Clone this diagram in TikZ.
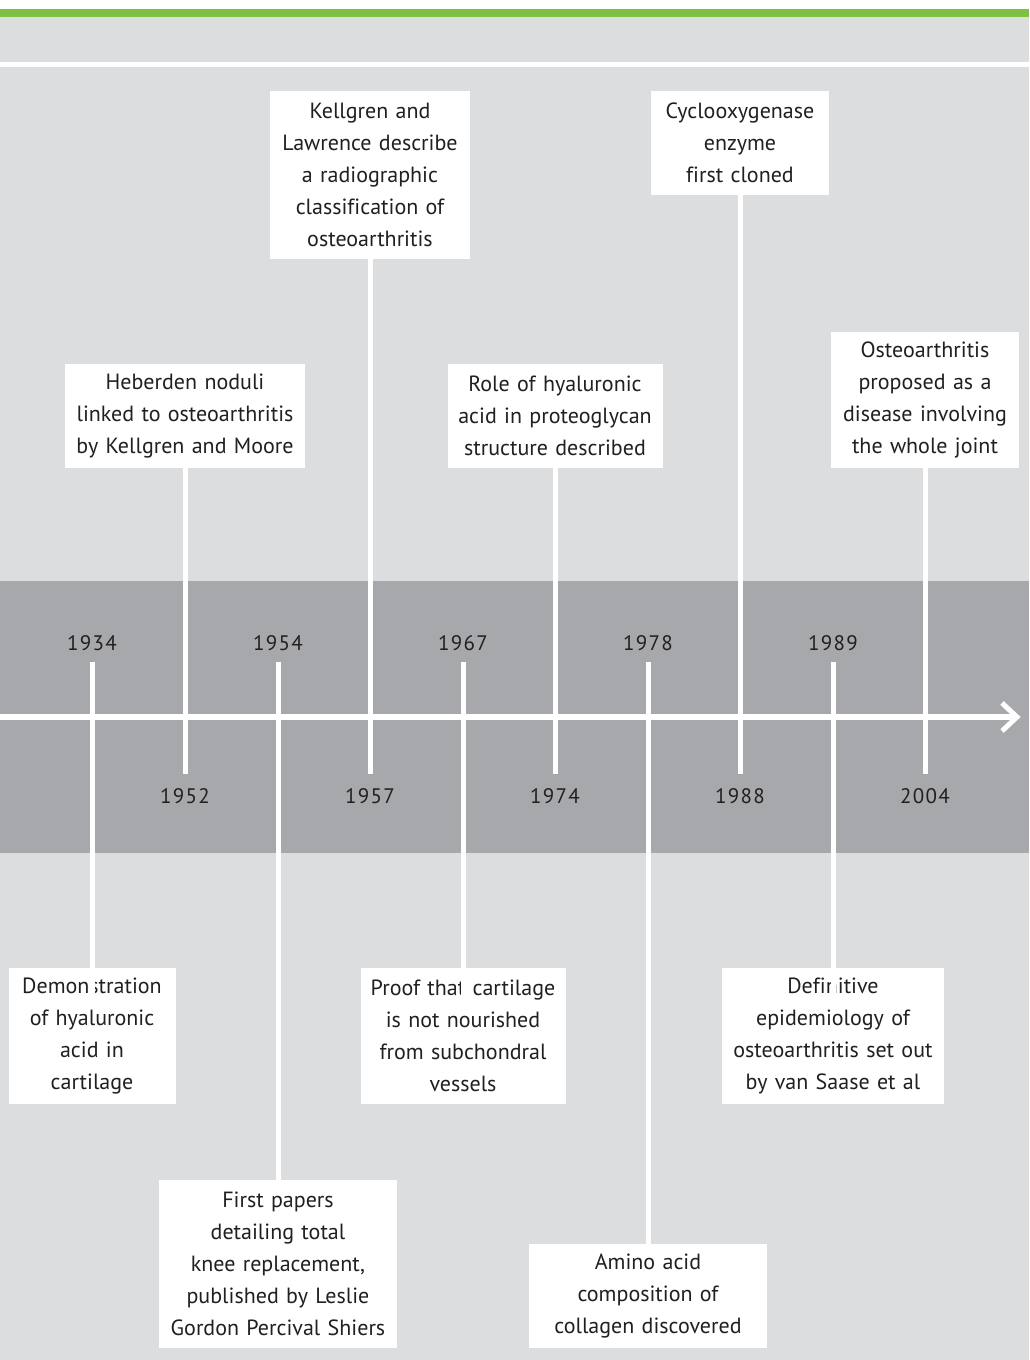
\documentclass[tikz,border=0pt]{standalone}
\usepackage{fontspec}
\setmainfont{PT Sans}[Ligatures=NoCommon]
\newfontfamily\yearfont[LetterSpace=6]{PT Sans}
\definecolor{pagegrey}{HTML}{DCDDDF}
\definecolor{bandgrey}{HTML}{A7A8AB}
\definecolor{topgreen}{HTML}{7DC142}
\definecolor{ink}{HTML}{231F20}
\tikzset{
  event/.style={fill=white, align=center, inner sep=0pt, text=ink,
    font=\fontsize{22}{32}\selectfont},
  year/.style={inner sep=0pt, text height=14pt, text depth=0pt, text=ink,
    font=\yearfont\fontsize{21}{24}\selectfont},
  link/.style={draw=white, line width=5pt},
  axis/.style={draw=white, line width=5.5pt},
}
\begin{document}
\begin{tikzpicture}[x=1pt,y=-1pt]
\useasboundingbox (0,0) rectangle (1029,1360);
% page background, top rule and the grey band behind the axis
\fill[pagegrey] (0,0) rectangle (1029,1360);
\fill[white] (0,0) rectangle (1029,9);
\fill[topgreen] (0,9) rectangle (1029,17);
\fill[white] (0,62) rectangle (1029,67);
\fill[bandgrey] (0,581) rectangle (1029,853);

% time axis
\coordinate (axL) at (0,717);
\coordinate (axE) at (1013,717);
\coordinate (axR) at (1017,717);
\draw[axis] (axL) -- (axE);
\draw[link, miter limit=10] (1002,703) -- (axR) -- (1002,731);

% years
\node[year] (y1934) at (92,643) {1934};
\node[year] (y1954) at (278,643) {1954};
\node[year] (y1967) at (463,643) {1967};
\node[year] (y1978) at (648,643) {1978};
\node[year] (y1989) at (833,643) {1989};
\node[year] (y1952) at (185,796) {1952};
\node[year] (y1957) at (370,796) {1957};
\node[year] (y1974) at (555,796) {1974};
\node[year] (y1988) at (740,796) {1988};
\node[year] (y2004) at (925,796) {2004};

% events above the axis
\node[event, minimum width=200pt, minimum height=168pt, text width=200pt] (kl) at (370,175)
  {Kellgren and\\Lawrence describe\\a radiographic\\classification of\\osteoarthritis};
\node[event, minimum width=178pt, minimum height=104pt, text width=178pt] (cox) at (740,143)
  {Cyclooxygenase\\enzyme\\first cloned};
\node[event, minimum width=240pt, minimum height=104pt, text width=240pt] (heb) at (185,416)
  {Heberden noduli\\linked to osteoarthritis\\by Kellgren and Moore};
\node[event, minimum width=215pt, minimum height=104pt, text width=215pt] (role) at (555,416)
  {Role of hyaluronic\\acid in proteoglycan\\structure described};
\node[event, minimum width=188pt, minimum height=136pt, text width=188pt] (whole) at (925,400)
  {Osteoarthritis\\proposed as a\\disease involving\\the whole joint};

% events below the axis
\node[event, minimum width=167pt, minimum height=136pt, text width=167pt] (demo) at (92,1036)
  {Demonstration\\of hyaluronic\\acid in\\cartilage};
\node[event, minimum width=205pt, minimum height=136pt, text width=205pt] (proof) at (463,1036)
  {Proof that cartilage\\is not nourished\\from subchondral\\vessels};
\node[event, minimum width=222pt, minimum height=136pt, text width=222pt] (defn) at (833,1036)
  {Definitive\\epidemiology of\\osteoarthritis set out\\by van Saase et al};
\node[event, minimum width=238pt, minimum height=168pt, text width=238pt] (first) at (278,1264)
  {First papers\\detailing total\\knee replacement,\\published by Leslie\\Gordon Percival Shiers};
\node[event, minimum width=238pt, minimum height=104pt, text width=238pt] (amino) at (648,1296)
  {Amino acid\\composition of\\collagen discovered};

% connectors from the upper events down to their years
\draw[link] (kl.south) -- ([yshift=15pt]y1957.north);
\draw[link] (cox.south) -- ([yshift=15pt]y1988.north);
\draw[link] (heb.south) -- ([yshift=15pt]y1952.north);
\draw[link] (role.south) -- ([yshift=15pt]y1974.north);
\draw[link] (whole.south) -- ([yshift=15pt]y2004.north);

% connectors from the upper years down to the lower events
% (the three nearer boxes are overlapped by their connector)
\draw[link] ([yshift=-12pt]y1934.south) -- ([yshift=-32pt]demo.north);
\draw[link] ([yshift=-12pt]y1954.south) -- (first.north);
\draw[link] ([yshift=-12pt]y1967.south) -- ([yshift=-32pt]proof.north);
\draw[link] ([yshift=-12pt]y1978.south) -- (amino.north);
\draw[link] ([yshift=-12pt]y1989.south) -- ([yshift=-32pt]defn.north);
\end{tikzpicture}
\end{document}
